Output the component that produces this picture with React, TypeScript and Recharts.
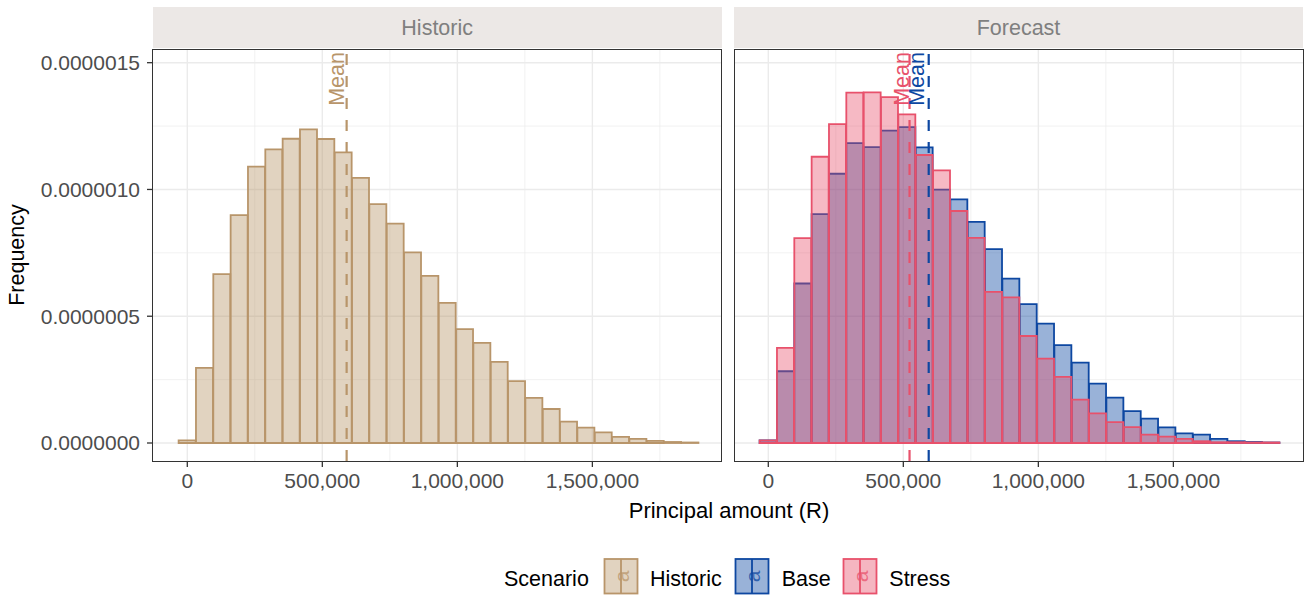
import React from "react";
import {
  ComposedChart,
  Bar,
  XAxis,
  YAxis,
  CartesianGrid,
  ReferenceLine,
} from "recharts";

// bin centres (R)
const binMid = [
  0, 64200, 128400, 192600, 256800, 321000, 385200, 449400, 513600, 577800,
  642000, 706200, 770400, 834600, 898800, 963000, 1027200, 1091400, 1155600,
  1219800, 1284000, 1348200, 1412400, 1476600, 1540800, 1605000, 1669200,
  1733400, 1797600, 1861800,
];

// density, in units of 1e-6
const historic = [
  0.01, 0.296, 0.666, 0.899, 1.09, 1.158, 1.2, 1.237, 1.199, 1.146, 1.046,
  0.942, 0.865, 0.752, 0.659, 0.553, 0.449, 0.395, 0.32, 0.244, 0.178, 0.134,
  0.084, 0.061, 0.042, 0.024, 0.016, 0.008, 0.004, 0.002,
];
const base = [
  0.01, 0.283, 0.629, 0.903, 1.062, 1.183, 1.167, 1.232, 1.246, 1.166, 0.999,
  0.961, 0.872, 0.765, 0.648, 0.548, 0.471, 0.386, 0.317, 0.234, 0.179, 0.126,
  0.096, 0.062, 0.038, 0.033, 0.016, 0.007, 0.004, 0.002,
];
const stress = [
  0.01, 0.375, 0.808, 1.129, 1.258, 1.382, 1.383, 1.364, 1.296, 1.136, 1.075,
  0.915, 0.809, 0.596, 0.574, 0.422, 0.333, 0.261, 0.171, 0.117, 0.082, 0.063,
  0.033, 0.025, 0.016, 0.007, 0.003, 0.003, 0.002, 0.002,
];

const meanHistoric = 590000;
const meanBase = 594000;
const meanStress = 523000;

const xTicks = [0, 500000, 1000000, 1500000];
const xMinor = [250000, 750000, 1250000, 1750000];
const yTicks = [0, 0.5, 1, 1.5];
const yMinor = [0.25, 0.75, 1.25];

const xDomain = [-127000, 1980000];
const yDomain = [-0.071, 1.554];

const colHist = "#B8956A";
const colBase = "#0D47A1";
const colStress = "#E8516B";
const FONT = "'Liberation Sans', Arial, sans-serif";

const histData = binMid.map((x, i) => ({ x, v: historic[i] }));
const fcData = binMid.map((x, i) => ({ x, base: base[i], stress: stress[i] }));

const fmtX = (v: number) => v.toLocaleString("en-US");
const fmtY = (v: number) => (v * 1e-6).toFixed(7);

function MeanLabel(props: any) {
  const { viewBox, color, off } = props;
  if (!viewBox) return null;
  const x = viewBox.x - off;
  const y = viewBox.y + 3;
  return (
    <text
      x={x}
      y={y}
      transform={`rotate(-90 ${x} ${y})`}
      textAnchor="end"
      fill={color}
      fontSize={21.5}
      fontFamily={FONT}
    >
      Mean
    </text>
  );
}

const tickStyle = { fill: "#4D4D4D", fontSize: 21, fontFamily: FONT };

function Strip({ left, label }: { left: number; label: string }) {
  return (
    <div
      style={{
        position: "absolute",
        left,
        top: 7,
        width: 569,
        height: 41,
        background: "#ECE8E6",
        color: "#7F7F7F",
        fontSize: 21.5,
        lineHeight: "42px",
        textAlign: "center",
      }}
    >
      {label}
    </div>
  );
}

function Border({ left }: { left: number }) {
  return (
    <div
      style={{
        position: "absolute",
        left: left - 0.5,
        top: 48.5,
        width: 570,
        height: 413,
        border: "1.3px solid #333",
        boxSizing: "border-box",
        pointerEvents: "none",
      }}
    />
  );
}

function LegendKey({ x, color }: { x: number; color: string }) {
  const cx = x + 16.5;
  return (
    <g>
      <rect
        x={x}
        y={8}
        width={33}
        height={34.5}
        fill={color}
        fillOpacity={0.42}
        stroke={color}
        strokeWidth={1.8}
      />
      <line x1={cx} x2={cx} y1={8} y2={42.5} stroke={color} strokeWidth={1.8} />
      <text
        x={cx}
        y={25.5}
        transform={`rotate(-90 ${cx} 25.5)`}
        textAnchor="middle"
        dominantBaseline="central"
        fontSize={21}
        fill={color}
        fillOpacity={0.75}
        fontFamily={FONT}
      >
        a
      </text>
    </g>
  );
}

export default function App() {
  return (
    <div
      style={{
        position: "absolute",
        left: 0,
        top: 0,
        width: 1308,
        height: 599,
        background: "#fff",
        fontFamily: FONT,
      }}
    >
      <Strip left={152.7} label="Historic" />
      <Strip left={734} label="Forecast" />

      <div style={{ position: "absolute", left: 0, top: 49 }}>
        <ComposedChart
          width={722}
          height={452}
          data={histData}
          margin={{ top: 0, right: 0, bottom: 0, left: 0 }}
          barCategoryGap={0}
          barGap={0}
        >
          <CartesianGrid
            verticalValues={xMinor}
            horizontalValues={yMinor}
            stroke="#EBEBEB"
            strokeWidth={0.7}
          />
          <CartesianGrid
            verticalValues={xTicks}
            horizontalValues={yTicks}
            stroke="#EBEBEB"
            strokeWidth={1.4}
          />
          <XAxis
            dataKey="x"
            type="number"
            domain={xDomain}
            ticks={xTicks}
            tickFormatter={fmtX}
            axisLine={false}
            tickLine={{ stroke: "#333", strokeWidth: 1.3 }}
            tickSize={6}
            tickMargin={6}
            tick={tickStyle}
            height={40}
            allowDataOverflow
          />
          <YAxis
            type="number"
            domain={yDomain}
            ticks={yTicks}
            tickFormatter={fmtY}
            axisLine={false}
            tickLine={{ stroke: "#333", strokeWidth: 1.3 }}
            tickSize={6}
            tickMargin={7}
            tick={tickStyle}
            width={153}
            allowDataOverflow
          />
          <Bar
            dataKey="v"
            fill={colHist}
            fillOpacity={0.42}
            stroke={colHist}
            strokeWidth={1.8}
            isAnimationActive={false}
          />
          <ReferenceLine
            x={meanHistoric}
            stroke={colHist}
            strokeWidth={2.2}
            strokeDasharray="11 11"
            label={<MeanLabel color={colHist} off={3} />}
          />
        </ComposedChart>
      </div>

      <div style={{ position: "absolute", left: 734, top: 49 }}>
        <ComposedChart
          width={569}
          height={452}
          data={fcData}
          margin={{ top: 0, right: 0, bottom: 0, left: 0 }}
          barCategoryGap={0}
          barGap={0}
        >
          <CartesianGrid
            xAxisId="b"
            verticalValues={xMinor}
            horizontalValues={yMinor}
            stroke="#EBEBEB"
            strokeWidth={0.7}
          />
          <CartesianGrid
            xAxisId="b"
            verticalValues={xTicks}
            horizontalValues={yTicks}
            stroke="#EBEBEB"
            strokeWidth={1.4}
          />
          <XAxis
            xAxisId="b"
            dataKey="x"
            type="number"
            domain={xDomain}
            ticks={xTicks}
            tickFormatter={fmtX}
            axisLine={false}
            tickLine={{ stroke: "#333", strokeWidth: 1.3 }}
            tickSize={6}
            tickMargin={6}
            tick={tickStyle}
            height={40}
            allowDataOverflow
          />
          <XAxis
            xAxisId="s"
            dataKey="x"
            type="number"
            domain={xDomain}
            hide
            allowDataOverflow
          />
          <YAxis type="number" domain={yDomain} ticks={yTicks} hide allowDataOverflow />
          <Bar
            xAxisId="b"
            dataKey="base"
            fill={colBase}
            fillOpacity={0.42}
            stroke={colBase}
            strokeWidth={1.8}
            isAnimationActive={false}
          />
          <Bar
            xAxisId="s"
            dataKey="stress"
            fill={colStress}
            fillOpacity={0.4}
            stroke={colStress}
            strokeWidth={1.8}
            isAnimationActive={false}
          />
          <ReferenceLine
            xAxisId="b"
            x={meanStress}
            stroke={colStress}
            strokeWidth={2.2}
            strokeDasharray="11 11"
            label={<MeanLabel color={colStress} off={0.7} />}
          />
          <ReferenceLine
            xAxisId="b"
            x={meanBase}
            stroke={colBase}
            strokeWidth={2.2}
            strokeDasharray="11 11"
            label={<MeanLabel color={colBase} off={4.3} />}
          />
        </ComposedChart>
      </div>

      <Border left={152.7} />
      <Border left={734} />

      <svg
        style={{ position: "absolute", left: 0, top: 0 }}
        width={1308}
        height={599}
        pointerEvents="none"
      >
        <text
          x={17}
          y={255}
          transform="rotate(-90 17 255)"
          textAnchor="middle"
          dominantBaseline="central"
          fontSize={21.5}
          fontFamily={FONT}
          fill="#000"
        >
          Frequency
        </text>
        <text
          x={729}
          y={518.3}
          textAnchor="middle"
          fontSize={22}
          fontFamily={FONT}
          fill="#000"
        >
          Principal amount (R)
        </text>
        <g transform="translate(0 551)">
          <text x={504} y={35} fontSize={21.5} fontFamily={FONT} fill="#000">
            Scenario
          </text>
          <LegendKey x={604.5} color={colHist} />
          <text x={650} y={35} fontSize={21.5} fontFamily={FONT} fill="#000">
            Historic
          </text>
          <LegendKey x={735.5} color={colBase} />
          <text x={781.7} y={35} fontSize={21.5} fontFamily={FONT} fill="#000">
            Base
          </text>
          <LegendKey x={843.5} color={colStress} />
          <text x={889.3} y={35} fontSize={21.5} fontFamily={FONT} fill="#000">
            Stress
          </text>
        </g>
      </svg>
    </div>
  );
}
